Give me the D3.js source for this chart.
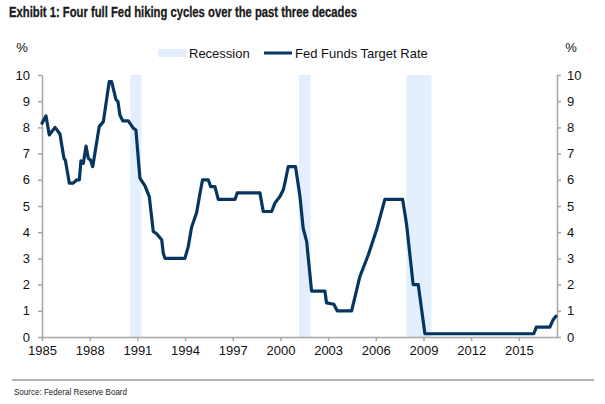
<!DOCTYPE html>
<html><head><meta charset="utf-8">
<script src="https://cdn.jsdelivr.net/npm/d3@7"></script>
<style>body{margin:0;background:#fff}svg{display:block}</style>
</head><body><svg id="c" width="605" height="404"></svg>
<script>
// Fed funds target rate: [year (decimal), rate %]
const years = [1985.0,1985.25,1985.46,1985.82,1986.13,1986.38,1986.47,1986.72,1986.97,1987.18,1987.35,1987.45,1987.6,1987.77,1987.91,1988.06,1988.19,1988.6,1988.86,1989.23,1989.38,1989.65,1989.78,1989.9,1990.08,1990.43,1990.74,1990.91,1991.16,1991.48,1991.75,1992.0,1992.21,1992.53,1992.63,1992.74,1993.99,1994.2,1994.41,1994.73,1994.94,1995.1,1995.46,1995.61,1995.88,1996.09,1997.14,1997.28,1998.71,1998.92,1999.45,1999.65,1999.97,2000.18,2000.28,2000.49,2000.95,2001.23,2001.43,2001.65,2001.96,2002.8,2002.9,2003.36,2003.57,2004.48,2005.0,2005.53,2006.05,2006.57,2007.69,2007.94,2008.35,2008.67,2009.09,2015.94,2016.1,2016.95,2017.16,2017.33];
const rates = [8.16,8.44,7.71,8.0,7.75,6.82,6.75,5.87,5.87,6.0,6.0,6.72,6.63,7.29,6.82,6.75,6.5,8.03,8.22,9.75,9.75,9.07,8.98,8.47,8.25,8.25,7.97,7.9,6.06,5.77,5.36,4.03,3.94,3.71,3.2,3.0,3.0,3.45,4.19,4.75,5.49,6.0,6.0,5.74,5.74,5.25,5.25,5.5,5.5,4.79,4.79,5.11,5.36,5.62,5.87,6.5,6.5,5.36,4.15,3.65,1.75,1.75,1.3,1.25,1.0,1.0,2.31,3.14,4.09,5.25,5.25,4.28,2.0,2.0,0.125,0.125,0.375,0.375,0.66,0.79];
const recessionStart = [1990.55, 2001.17, 2007.92];
const recessionEnd   = [1991.25, 2001.9, 2009.5];
const xTicks = [1985,1988,1991,1994,1997,2000,2003,2006,2009,2012,2015];
const yTicks = [0,1,2,3,4,5,6,7,8,9,10];
const title = "Exhibit 1: Four full Fed hiking cycles over the past three decades";
const source = "Source: Federal Reserve Board";

const svg = d3.select("#c");
const L = 42, R = 557, T = 75, B = 337;
const x = d3.scaleLinear().domain([1985, 2017.4]).range([L, R]);
const y = d3.scaleLinear().domain([0, 10]).range([B, T]);
const font = "'Liberation Sans', Arial, sans-serif";
const narrow = "'Liberation Sans Narrow','Arial Narrow','Liberation Sans',sans-serif";
const axisCol = "#a6a6a6";

// title
svg.append("text").attr("x", 9).attr("y", 17)
  .attr("font-family", narrow)
  .attr("font-weight", "bold").attr("font-size", 14.5).attr("fill", "#1a1a1a")
  .attr("stroke", "#1a1a1a").attr("stroke-width", 0.3)
  .attr("textLength", 348).attr("lengthAdjust", "spacingAndGlyphs")
  .text(title);

// recessions
svg.append("g").selectAll("rect").data(recessionStart).join("rect")
  .attr("x", (d) => x(d)).attr("y", T)
  .attr("width", (d, i) => x(recessionEnd[i]) - x(d)).attr("height", B - T)
  .attr("fill", "#e3effd");

// axes
function styleAxis(g) {
  g.select(".domain").attr("stroke", axisCol).attr("stroke-width", 1.5);
  g.selectAll(".tick line").attr("stroke", axisCol).attr("stroke-width", 1.5);
  g.selectAll(".tick text").attr("font-family", font).attr("font-size", 13).attr("fill", "#111");
}
svg.append("g").attr("transform", `translate(${L},0)`)
  .call(d3.axisLeft(y).tickValues(yTicks).tickSize(4).tickSizeOuter(0).tickPadding(8))
  .call(styleAxis);
svg.append("g").attr("transform", `translate(${R},0)`)
  .call(d3.axisRight(y).tickValues(yTicks).tickSize(4).tickSizeOuter(0).tickPadding(6))
  .call(styleAxis);
svg.append("g").attr("transform", `translate(0,${B})`)
  .call(d3.axisBottom(x).tickValues(xTicks).tickFormat(d3.format("d")).tickSize(4).tickSizeOuter(0).tickPadding(5))
  .call(styleAxis);

// % labels
svg.append("text").attr("x", 22).attr("y", 52).attr("text-anchor", "middle")
  .attr("font-family", font).attr("font-size", 13).attr("fill", "#111").text("%");
svg.append("text").attr("x", 571).attr("y", 52).attr("text-anchor", "middle")
  .attr("font-family", font).attr("font-size", 13).attr("fill", "#111").text("%");

// line
const pts = years.map((d, i) => [d, rates[i]]);
svg.append("path").datum(pts)
  .attr("d", d3.line().x((d) => x(d[0])).y((d) => y(d[1])))
  .attr("fill", "none").attr("stroke", "#063660").attr("stroke-width", 3.2)
  .attr("stroke-linejoin", "round").attr("stroke-linecap", "round");

// legend
const lg = svg.append("g");
lg.append("rect").attr("x", 158).attr("y", 49).attr("width", 28).attr("height", 8).attr("fill", "#e3effd");
lg.append("text").attr("x", 189).attr("y", 58).attr("font-family", font).attr("font-size", 13).attr("fill", "#111").text("Recession");
lg.append("line").attr("x1", 264).attr("x2", 292).attr("y1", 53).attr("y2", 53).attr("stroke", "#063660").attr("stroke-width", 3);
lg.append("text").attr("x", 295).attr("y", 58).attr("font-family", font).attr("font-size", 13).attr("fill", "#111").text("Fed Funds Target Rate");

// footer
svg.append("line").attr("x1", 12).attr("x2", 594).attr("y1", 380).attr("y2", 380).attr("stroke", "#9a9a9a").attr("stroke-width", 1.5);
svg.append("text").attr("x", 14).attr("y", 395)
  .attr("font-family", narrow)
  .attr("font-size", 9.5).attr("fill", "#222").attr("textLength", 113).attr("lengthAdjust", "spacingAndGlyphs")
  .text(source);
</script></body></html>
